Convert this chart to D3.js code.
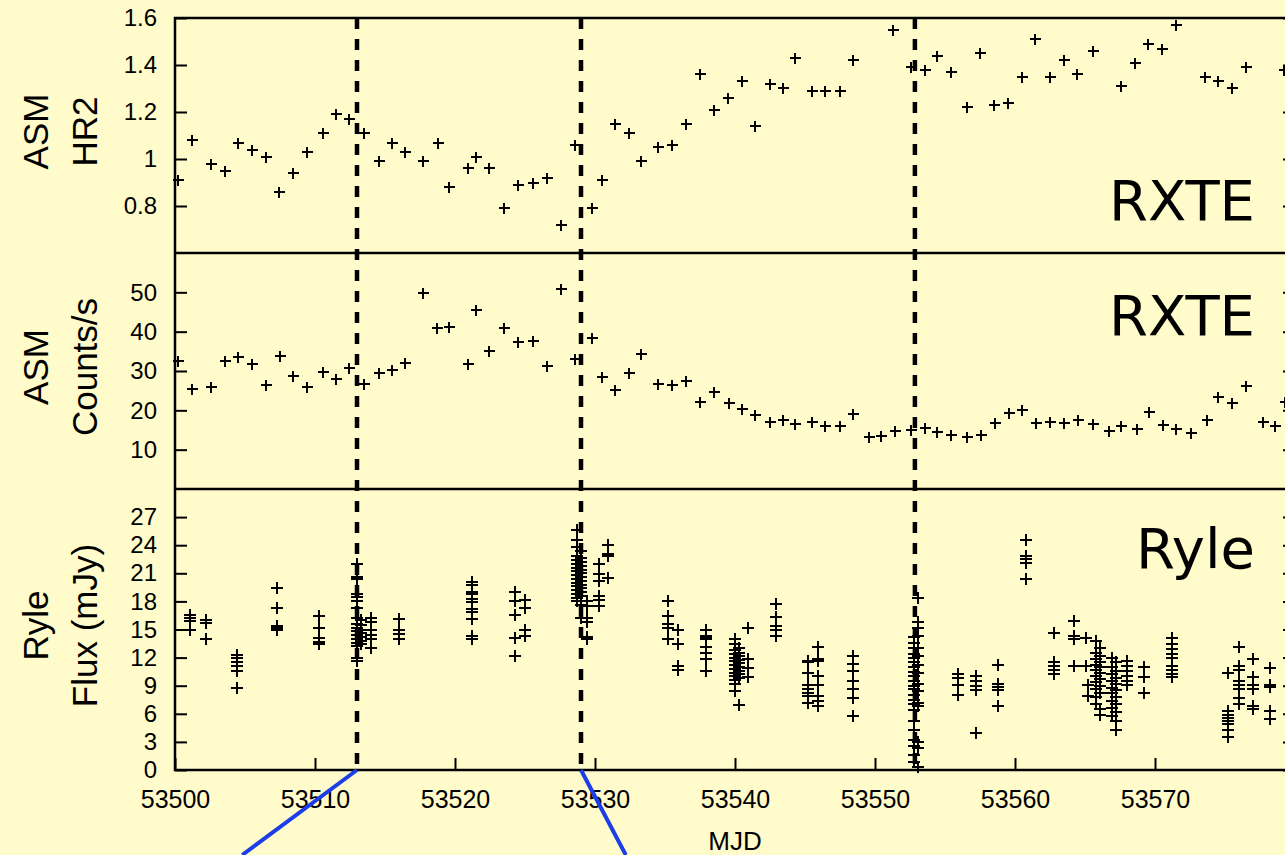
<!DOCTYPE html>
<html>
<head>
<meta charset="utf-8">
<script src="https://cdn.jsdelivr.net/npm/d3@7"></script>
<style>
  html, body { margin: 0; padding: 0; background: #fffbca; overflow: hidden; }
  svg { display: block; }
  .tick text { font-family: "Liberation Sans", Arial, sans-serif; fill: #000; }
  .tick line { stroke: #000; stroke-width: 2; }
  .axis-title { font-family: "Liberation Sans", Arial, sans-serif; font-size: 35px; fill: #000; }
  .tag { font-family: "Comic Sans MS", "DejaVu Sans", sans-serif; font-size: 56px; fill: #000; }
</style>
</head>
<body>
<svg id="chart"></svg>
<script>
'use strict';

// ASM hardness ratio HR2: [MJD, value]
var hr2 = [
  [53500.2, 0.91], [53501.2, 1.08], [53502.6, 0.98], [53503.6, 0.95], [53504.5, 1.07],
  [53505.5, 1.04], [53506.5, 1.01], [53507.4, 0.86], [53508.4, 0.94], [53509.4, 1.03],
  [53510.6, 1.11], [53511.5, 1.19], [53512.4, 1.17], [53513.5, 1.11], [53514.6, 0.99],
  [53515.5, 1.07], [53516.4, 1.03], [53517.7, 0.99], [53518.8, 1.07], [53519.6, 0.88],
  [53520.9, 0.96], [53521.5, 1.01], [53522.4, 0.96], [53523.5, 0.79], [53524.5, 0.89],
  [53525.6, 0.90], [53526.6, 0.92], [53527.6, 0.72], [53528.6, 1.06], [53529.8, 0.79],
  [53530.5, 0.91], [53531.4, 1.15], [53532.4, 1.11], [53533.3, 0.99], [53534.5, 1.05],
  [53535.5, 1.06], [53536.5, 1.15], [53537.5, 1.36], [53538.5, 1.21], [53539.5, 1.26],
  [53540.5, 1.33], [53541.4, 1.14], [53542.5, 1.32], [53543.4, 1.30], [53544.3, 1.43],
  [53545.5, 1.29], [53546.4, 1.29], [53547.5, 1.29], [53548.4, 1.42], [53551.3, 1.55],
  [53552.6, 1.39], [53553.6, 1.38], [53554.4, 1.44], [53555.4, 1.37], [53556.6, 1.22],
  [53557.5, 1.45], [53558.5, 1.23], [53559.5, 1.24], [53560.5, 1.35], [53561.4, 1.51],
  [53562.5, 1.35], [53563.5, 1.42], [53564.4, 1.36], [53565.6, 1.46], [53567.6, 1.31],
  [53568.6, 1.41], [53569.5, 1.49], [53570.5, 1.47], [53571.5, 1.57], [53573.6, 1.35],
  [53574.5, 1.33], [53575.5, 1.30], [53576.5, 1.39], [53579.2, 1.38]
];

// ASM count rate (counts/s): [MJD, value]
var asmCounts = [
  [53500.2, 32.5], [53501.2, 25.4], [53502.6, 25.9], [53503.6, 32.6], [53504.5, 33.5],
  [53505.5, 31.7], [53506.5, 26.4], [53507.5, 33.8], [53508.4, 28.7], [53509.4, 25.9],
  [53510.6, 29.7], [53511.5, 28.0], [53512.4, 30.7], [53513.5, 26.7], [53514.6, 29.4],
  [53515.5, 30.3], [53516.4, 32.0], [53517.7, 49.9], [53518.7, 40.9], [53519.6, 41.1],
  [53520.9, 31.7], [53521.5, 45.5], [53522.4, 35.1], [53523.5, 40.9], [53524.5, 37.3],
  [53525.6, 37.7], [53526.6, 31.3], [53527.6, 50.8], [53528.6, 33.1], [53529.8, 38.5],
  [53530.5, 28.6], [53531.4, 25.2], [53532.4, 29.6], [53533.3, 34.3], [53534.5, 26.7],
  [53535.5, 26.4], [53536.5, 27.5], [53537.5, 22.2], [53538.5, 24.7], [53539.6, 21.8],
  [53540.5, 20.3], [53541.4, 18.8], [53542.5, 17.0], [53543.4, 17.5], [53544.3, 16.5],
  [53545.5, 17.0], [53546.4, 15.9], [53547.5, 15.9], [53548.4, 19.1], [53549.6, 13.2],
  [53550.4, 13.5], [53551.4, 14.8], [53552.6, 15.0], [53553.6, 15.6], [53554.4, 14.6],
  [53555.4, 13.7], [53556.6, 13.2], [53557.6, 13.7], [53558.6, 16.7], [53559.6, 19.3],
  [53560.5, 20.1], [53561.5, 16.7], [53562.5, 17.0], [53563.5, 16.9], [53564.5, 17.5],
  [53565.6, 16.5], [53566.7, 14.8], [53567.6, 15.9], [53568.7, 15.2], [53569.6, 19.7],
  [53570.6, 16.3], [53571.5, 15.2], [53572.6, 14.2], [53573.7, 17.5], [53574.5, 23.5],
  [53575.5, 21.8], [53576.5, 26.3], [53577.7, 17.1], [53578.6, 16.0], [53579.3, 22.2]
];

// Ryle 15 GHz flux (mJy): [MJD, [fluxes in that scan]]
var ryleScans = [
  [53501.1, [16.5, 16.2, 15.9, 15.0]],
  [53502.2, [16.0, 15.7, 14.0]],
  [53504.4, [12.3, 12.0, 11.5, 11.1, 10.6, 8.8]],
  [53507.3, [19.4, 17.3, 15.4, 15.2, 15.0]],
  [53510.3, [16.4, 15.2, 14.1, 13.7, 13.5]],
  [53513.0, [22.0, 20.6, 20.4, 18.8, 18.5, 18.0, 17.3, 16.2, 15.6, 15.2, 14.8, 14.4, 14.0, 13.6, 13.2, 12.0, 11.6]],
  [53513.3, [16.0, 15.5, 15.0, 14.6, 14.2, 13.8, 13.4]],
  [53514.0, [16.2, 15.8, 15.0, 14.4, 14.0, 13.0]],
  [53516.0, [16.1, 14.9, 14.5, 14.0]],
  [53521.2, [20.1, 19.7, 19.0, 18.8, 18.3, 17.9, 17.2, 16.9, 16.1, 14.3, 14.0]],
  [53524.3, [19.0, 18.0, 16.5, 14.1, 12.2]],
  [53525.0, [18.2, 17.3, 14.9, 14.3]],
  [53528.7, [25.6, 24.6, 23.8, 22.8, 22.4, 22.0, 21.6, 21.2, 20.8, 20.4, 20.0, 19.6, 19.2, 18.8, 18.4, 18.0]],
  [53529.0, [23.4, 22.6, 22.2, 21.8, 21.4, 21.0, 20.6, 20.2, 19.8, 19.4, 19.0, 18.6, 17.6, 16.2]],
  [53529.4, [18.0, 17.5, 16.2, 15.8, 14.2, 14.0]],
  [53530.3, [22.0, 20.9, 20.2, 18.6, 18.1, 17.5]],
  [53530.9, [24.0, 23.1, 22.9, 20.5]],
  [53535.2, [18.0, 16.4, 15.6, 15.2, 14.0]],
  [53535.9, [14.9, 13.4, 11.1, 10.7]],
  [53537.9, [15.0, 14.3, 14.1, 14.0, 13.1, 12.5, 11.9, 10.6]],
  [53540.0, [14.0, 13.4, 12.8, 12.4, 12.0, 11.6, 11.2, 10.8, 10.4, 10.0, 9.6, 9.2, 8.4]],
  [53540.3, [13.0, 12.5, 12.2, 11.7, 11.4, 11.0, 10.6, 10.2, 9.8, 6.9]],
  [53540.9, [15.2, 11.8, 10.9, 9.9]],
  [53542.9, [17.7, 16.3, 15.4, 14.9, 14.3]],
  [53545.2, [11.6, 11.5, 10.4, 9.1, 8.7, 8.2, 7.9, 7.2]],
  [53545.9, [13.1, 11.8, 11.6, 10.0, 9.1, 7.9, 7.4, 6.8]],
  [53548.4, [12.2, 11.3, 10.6, 9.5, 8.6, 7.7, 5.8]],
  [53552.8, [14.2, 13.6, 13.0, 12.4, 12.0, 11.5, 11.0, 10.5, 10.0, 9.5, 9.0, 8.6, 8.0, 7.5, 7.0, 6.4, 5.2, 4.3, 3.2, 2.6, 1.6, 0.9]],
  [53553.1, [18.4, 15.8, 15.2, 14.3, 13.0, 12.2, 11.2, 10.4, 9.2, 8.4, 7.2, 6.8, 3.0, 2.3, 0.3]],
  [53555.9, [10.2, 9.8, 9.1, 8.0]],
  [53557.2, [10.0, 9.5, 9.0, 8.5, 3.9]],
  [53558.8, [11.2, 9.2, 8.9, 8.5, 6.8]],
  [53560.8, [24.6, 22.9, 22.5, 22.1, 20.4]],
  [53562.8, [14.6, 11.5, 11.1, 10.7, 10.3]],
  [53564.2, [15.9, 14.3, 14.0, 11.1]],
  [53565.1, [14.1, 11.1]],
  [53565.2, [9.1, 7.9]],
  [53565.8, [13.8, 12.5, 11.8, 11.2, 10.7, 10.0, 9.4, 8.7, 7.8, 7.0]],
  [53566.1, [13.0, 12.2, 11.5, 11.0, 10.4, 9.7, 9.0, 8.2, 6.5, 5.9]],
  [53566.9, [12.0, 11.0, 10.2, 9.5, 8.8, 8.2, 7.4, 6.6, 5.8]],
  [53567.2, [11.5, 10.6, 9.8, 9.2, 8.5, 7.8, 7.0, 6.2, 5.2, 4.3]],
  [53568.0, [11.6, 11.1, 10.6, 10.0, 9.5, 9.1]],
  [53569.2, [11.0, 9.9, 8.2]],
  [53571.2, [14.1, 13.4, 12.9, 12.4, 12.0, 11.1, 10.7, 10.2, 9.9]],
  [53575.2, [10.4, 6.3, 5.9, 5.6, 5.2, 4.9, 4.3, 3.5]],
  [53576.0, [13.1, 11.1, 10.7, 9.5, 9.1, 8.6, 7.7, 7.0]],
  [53577.0, [11.8, 9.9, 9.1, 8.6, 6.8, 6.5]],
  [53578.2, [10.9, 9.1, 8.9, 6.3, 5.4]]
];

// tick values
var mjdTicks = [53500, 53510, 53520, 53530, 53540, 53550, 53560, 53570, 53580];
var mjdLabels = [53500, 53510, 53520, 53530, 53540, 53550, 53560, 53570];
var hr2Ticks = [0.8, 1, 1.2, 1.4, 1.6];
var countTicks = [10, 20, 30, 40, 50];
var ryleTicks = [0, 3, 6, 9, 12, 15, 18, 21, 24, 27];

// marked epochs (dashed lines) and the two zoom connectors below the axis
var eventMjd = [53513.0, 53529.0, 53552.85];
var zoomLinks = [[53513.0, 53504.8], [53529.0, 53532.2]];

function drawChart() {
    var W = 1285, H = 855;
    var left = 175, right = 1295;
    var panels = [
        { key: 'hr2', top: 18, bottom: 253, domain: [0.6, 1.6], ticks: hr2Ticks, lines: ['ASM', 'HR2'], tag: 'RXTE', tagY: 220 },
        { key: 'cnt', top: 253, bottom: 489, domain: [0, 60], ticks: countTicks, lines: ['ASM', 'Counts/s'], tag: 'RXTE', tagY: 335 },
        { key: 'ryle', top: 489, bottom: 770, domain: [0, 30], ticks: ryleTicks, lines: ['Ryle', 'Flux (mJy)'], tag: 'Ryle', tagY: 568 }
    ];

    var svg = d3.select('#chart').attr('width', W).attr('height', H);

    var x = d3.scaleLinear().domain([53500, 53580]).range([left, right]);

    panels.forEach(function (p) {
        p.y = d3.scaleLinear().domain(p.domain).range([p.bottom, p.top]);
    });

    var data = {
        hr2: hr2,
        cnt: asmCounts,
        ryle: d3.merge(ryleScans.map(function (s) {
            return s[1].map(function (f) { return [s[0], f]; });
        }))
    };

    var cross = 'M-5.5,0H5.5M0,-5.5V5.5';
    var crossBig = 'M-6,0H6M0,-6V6';

    panels.forEach(function (p) {
        var g = svg.append('g').attr('class', 'panel panel-' + p.key);

        // left axis
        var axL = d3.axisLeft(p.y).tickValues(p.ticks).tickFormat(function (d) { return String(d); })
            .tickSizeInner(-12).tickSizeOuter(0).tickPadding(18);
        var gl = g.append('g').attr('transform', 'translate(' + left + ',0)').call(axL);
        gl.select('.domain').remove();
        gl.selectAll('.tick text').style('font-size', '24px');

        // right axis (mirror ticks)
        var axR = d3.axisRight(p.y).tickValues(p.ticks).tickFormat('').tickSizeInner(-12).tickSizeOuter(0);
        var gr = g.append('g').attr('transform', 'translate(' + right + ',0)').call(axR);
        gr.select('.domain').remove();

        // points
        g.append('g').selectAll('path')
            .data(data[p.key])
            .enter().append('path')
            .attr('d', p.key === 'ryle' ? crossBig : cross)
            .attr('transform', function (d) {
                return 'translate(' + Math.round(x(d[0])) + ',' + Math.round(p.y(d[1])) + ')';
            })
            .attr('fill', 'none')
            .attr('stroke', '#000')
            .attr('stroke-width', 2)
            .attr('shape-rendering', 'crispEdges');

        // titles
        var cy = (p.top + p.bottom) / 2 - 4;
        p.lines.forEach(function (t, i) {
            g.append('text').attr('class', 'axis-title')
                .attr('text-anchor', 'middle')
                .attr('transform', 'translate(' + (48 + i * 49) + ',' + cy + ') rotate(-90)')
                .text(t);
        });

        g.append('text').attr('class', 'tag')
            .attr('x', 1255).attr('y', p.tagY)
            .attr('text-anchor', 'end')
            .text(p.tag);
    });

    // x axis at the bottom of the Ryle panel
    var bottomY = panels[2].bottom;
    var axX = d3.axisBottom(x).tickValues(mjdTicks)
        .tickFormat(function (d) { return mjdLabels.indexOf(d) >= 0 ? String(d) : ''; })
        .tickSizeInner(-12).tickSizeOuter(0).tickPadding(20);
    var gx = svg.append('g').attr('transform', 'translate(0,' + bottomY + ')').call(axX);
    gx.select('.domain').remove();
    gx.selectAll('.tick text').style('font-size', '25px');

    svg.append('text').attr('class', 'axis-title')
        .attr('x', (left + right) / 2).attr('y', 850)
        .attr('text-anchor', 'middle')
        .style('font-size', '26px')
        .text('MJD');

    // frame and panel separators
    svg.append('rect')
        .attr('x', left).attr('y', panels[0].top)
        .attr('width', right - left).attr('height', bottomY - panels[0].top)
        .attr('fill', 'none').attr('stroke', '#000').attr('stroke-width', 2.5);

    svg.selectAll('.sep').data(panels.slice(1)).enter().append('line')
        .attr('class', 'sep')
        .attr('x1', left).attr('x2', right)
        .attr('y1', function (p) { return p.top; }).attr('y2', function (p) { return p.top; })
        .attr('stroke', '#000').attr('stroke-width', 2.5);

    // dashed epoch lines
    svg.selectAll('.event').data(eventMjd).enter().append('line')
        .attr('class', 'event')
        .attr('x1', function (d) { return x(d); }).attr('x2', function (d) { return x(d); })
        .attr('y1', panels[0].top).attr('y2', bottomY)
        .attr('stroke', '#000').attr('stroke-width', 4.5)
        .attr('stroke-dasharray', '11,10');

    // blue connectors
    svg.selectAll('.link').data(zoomLinks).enter().append('line')
        .attr('class', 'link')
        .attr('x1', function (d) { return x(d[0]); }).attr('y1', bottomY)
        .attr('x2', function (d) { return x(d[1]); }).attr('y2', H)
        .attr('stroke', '#1c3ee6').attr('stroke-width', 4);
}

drawChart();
</script>
</body>
</html>
